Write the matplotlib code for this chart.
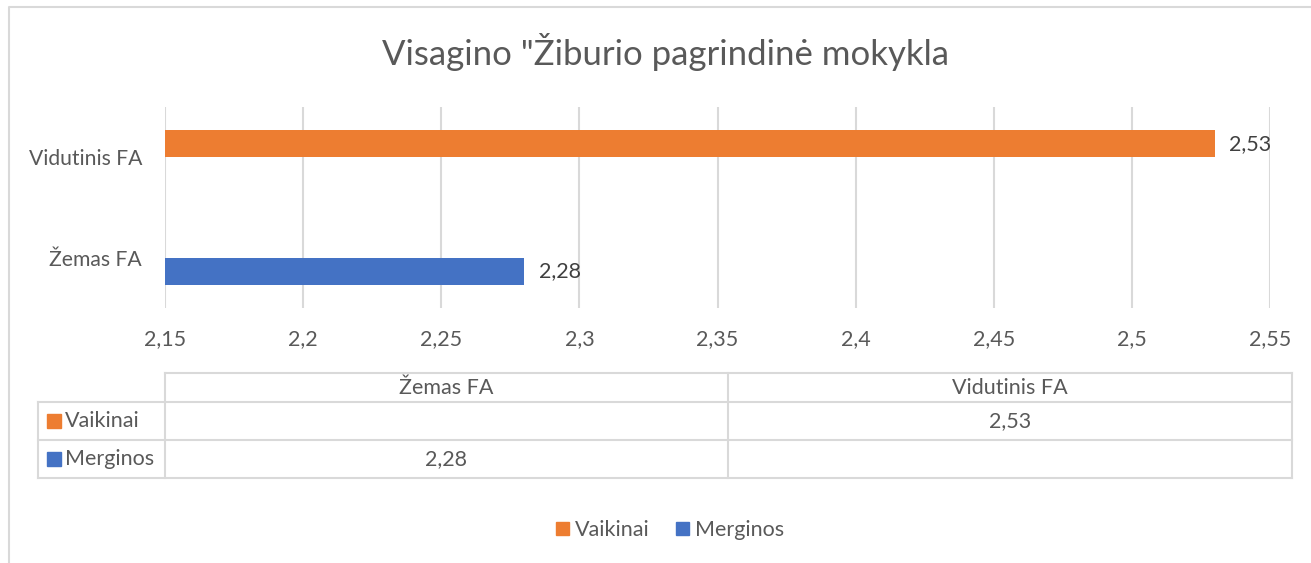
import matplotlib
matplotlib.use("Agg")
import matplotlib.pyplot as plt
from matplotlib.patches import Patch, Rectangle
import numpy as np

plt.rcParams['font.family'] = ['Lato', 'DejaVu Sans']

title = 'Visagino "Žiburio pagrindinė mokykla'
categories = ['Žemas FA', 'Vidutinis FA']
series_names = ['Vaikinai', 'Merginos']
vaikinai = [np.nan, 2.53]
merginos = [2.28, np.nan]
ticks = [2.15, 2.2, 2.25, 2.3, 2.35, 2.4, 2.45, 2.5, 2.55]

ORANGE = '#ED7D31'
BLUE = '#4472C4'
TEXT = '#595959'
GRID = '#D9D9D9'

W, H = 1311, 563
FS = 15.5


def fmt(v):
    return ('%g' % v).replace('.', ',')


def main():
    fig = plt.figure(figsize=(W / 100, H / 100), dpi=100)

    # overlay in pixel coords for frame and table
    bg = fig.add_axes([0, 0, 1, 1])
    bg.set_xlim(0, W)
    bg.set_ylim(H, 0)
    bg.axis('off')
    bg.plot([9, 9, W + 5], [H + 5, 7, 7], color=GRID, lw=1.5)

    ax = fig.add_axes([165 / W, 1 - 308 / H, 1105 / W, 201 / H])
    y = np.arange(len(categories))
    off, h = 0.135, 0.27
    ax.barh(y + off, vaikinai, height=h, color=ORANGE, label=series_names[0])
    ax.barh(y - off, merginos, height=h, color=BLUE, label=series_names[1])
    for offs, vals in ((off, vaikinai), (-off, merginos)):
        for yy, v in zip(y + offs, vals):
            if not np.isnan(v):
                ax.annotate(fmt(v), (v, yy), xytext=(10.5, 0), textcoords='offset points',
                            va='center', ha='left', fontsize=FS, color='#404040')

    ax.set_xlim(ticks[0], ticks[-1])
    ax.set_ylim(-0.5, len(categories) - 0.5)
    ax.set_xticks(ticks)
    ax.set_xticklabels([fmt(t) for t in ticks], fontsize=FS, color=TEXT)
    ax.set_yticks(y)
    ax.set_yticklabels(categories, fontsize=15.2, color=TEXT)
    ax.tick_params(axis='x', length=0, pad=15)
    ax.tick_params(axis='y', length=0, pad=16.5)
    ax.xaxis.grid(True, color=GRID, lw=1.5)
    ax.set_axisbelow(True)
    for s in ax.spines.values():
        s.set_visible(False)

    fig.text(665 / W, 1 - 52 / H, title, ha='center', va='center',
             fontsize=25, color=TEXT)

    # data table
    x0, x1, x2, x3 = 38, 165, 728, 1292
    r0, r1, r2, r3 = 373, 402, 440, 478
    lk = dict(color=GRID, lw=1.5)
    bg.plot([x1, x3], [r0, r0], **lk)
    for r in (r1, r2, r3):
        bg.plot([x0, x3], [r, r], **lk)
    bg.plot([x0, x0], [r1, r3], **lk)
    for x in (x1, x2, x3):
        bg.plot([x, x], [r0, r3], **lk)
    centers = [(x1 + x2) / 2, (x2 + x3) / 2]
    for cx, c in zip(centers, categories):
        bg.text(cx, (r0 + r1) / 2, c, ha='center', va='center', fontsize=FS, color=TEXT)
    rows = [(series_names[0], vaikinai, ORANGE, (r1 + r2) / 2),
            (series_names[1], merginos, BLUE, (r2 + r3) / 2)]
    for name, vals, col, cy in rows:
        bg.add_patch(Rectangle((47, cy - 7), 14, 14, color=col))
        bg.text(65, cy, name, ha='left', va='center', fontsize=FS, color=TEXT)
        for cx, v in zip(centers, vals):
            if not np.isnan(v):
                bg.text(cx, cy, fmt(v), ha='center', va='center', fontsize=FS, color=TEXT)

    handles = [Patch(color=ORANGE, label=series_names[0]),
               Patch(color=BLUE, label=series_names[1])]
    fig.legend(handles=handles, loc='center', bbox_to_anchor=(670 / W, 1 - 530 / H),
               ncol=2, frameon=False, fontsize=FS, labelcolor=TEXT,
               handlelength=0.6, handleheight=0.6, handletextpad=0.3, columnspacing=1.2)

    fig.savefig('out.png', dpi=100)


if __name__ == "__main__":
    main()
